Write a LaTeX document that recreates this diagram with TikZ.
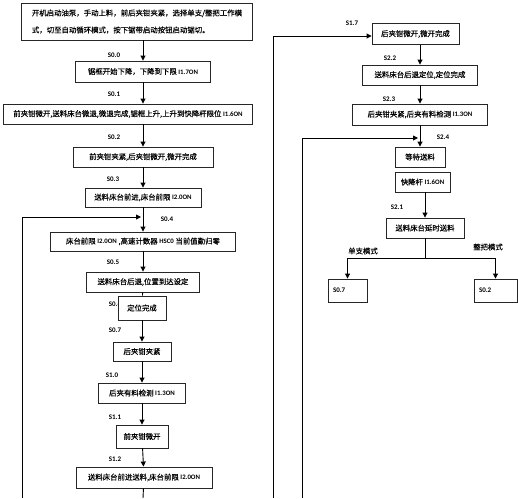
\documentclass[tikz,border=0pt]{standalone}
\usepackage{fontspec}
\setmainfont{Carlito}
\newfontfamily\cjk[FakeBold=0.3]{Noto Sans CJK SC}
\usetikzlibrary{arrows.meta}
\newcommand{\lat}[1]{{\rmfamily\bfseries\fontsize{6.8}{8}\selectfont #1}}

\begin{document}
\begin{tikzpicture}[x=1pt, y=-1pt, line width=0.9pt, >={Triangle[length=5pt,width=5pt]},
  box/.style={draw=black!85, fill=white, inner sep=0pt, minimum height=20pt,
    font=\cjk\fontsize{7.4}{17}\selectfont},
  endbox/.style={box, inner xsep=5pt, text width=29pt, align=left,
    font=\bfseries\fontsize{7}{8}\selectfont},
  lbl/.style={inner sep=0pt, font=\bfseries\fontsize{7}{8}\selectfont},
  mode/.style={inner sep=0pt, font=\cjk\fontsize{7.4}{8}\selectfont}]
  \useasboundingbox (0,0) rectangle (518,498);

  % left column
  \node[box, minimum width=231pt, minimum height=37pt, align=left] (start) at (137,21.5)
    {开机启动油泵，手动上料，前后夹钳夹紧，选择单支/整把工作模\\式，切至自动循环模式，按下锯带启动按钮启动锯切。};
  \node[box, minimum width=135pt, minimum height=21pt] (down) at (143,71.5) {锯框开始下降，下降到下限 \lat{I1.7ON}};
  \node[box, minimum width=249pt] (raise) at (128,114) {前夹钳微开,送料床台微退,微退完成,锯框上升,上升到快降杆限位 \lat{I1.6ON}};
  \node[box, minimum width=140pt] (clamp) at (143,157) {前夹钳夹紧,后夹钳微开,微开完成};
  \node[box, minimum width=116pt, minimum height=19pt] (fwd) at (143,197.5) {送料床台前进,床台前限 \lat{I2.0ON}};
  \node[box, minimum width=185pt, minimum height=19pt] (reset) at (143,241.5) {床台前限 \lat{I2.0ON} ,高速计数器 \lat{HSC0} 当前值勤归零};
  \node[box, minimum width=113pt] (back) at (143,282) {送料床台后退,位置到达设定};
  \node[lbl] (l06) at (115,304) {S0.6};
  \node[box, minimum width=48pt, minimum height=24pt] (pos) at (142,308) {定位完成};
  \node[box, minimum width=58pt, minimum height=19pt] (rclamp) at (142,351.5) {后夹钳夹紧};
  \node[box, minimum width=87pt] (check) at (142,393) {后夹有料检测 \lat{I1.3ON}};
  \node[box, minimum width=52pt, minimum height=23pt] (fopen) at (142,436.5) {前夹钳微开};
  \node[box, minimum width=136pt, minimum height=21pt] (feed) at (144,477.5) {送料床台前进送料,床台前限 \lat{I2.0ON}};

  \node[lbl] (l00) at (114,55) {S0.0};
  \node[lbl] (l01) at (114,94) {S0.1};
  \node[lbl] (l02) at (114,137) {S0.2};
  \node[lbl] (l03) at (113,179) {S0.3};
  \node[lbl] (l04) at (167,219) {S0.4};
  \node[lbl] (l05) at (113,262) {S0.5};
  \node[lbl] (l07) at (115,330) {S0.7};
  \node[lbl] (l10) at (112,375) {S1.0};
  \node[lbl] (l11) at (115,417) {S1.1};
  \node[lbl] (l12) at (115,459) {S1.2};

  \draw[->] (start.south -| down) -- (down);
  \draw[->] (down) -- (down |- raise.north);
  \draw[->] (raise.south -| clamp) -- (clamp);
  \draw[->] (clamp) -- (fwd);
  \draw[->] (fwd) -- (reset);
  \draw[->] (reset) -- (back);
  \draw (back) -- (pos);
  \draw[->] (pos) -- (rclamp);
  \draw[->] (rclamp) -- (check);
  \draw[->] (check) -- (fopen);
  \draw[->] (fopen) -- (feed);
  \coordinate (outA) at (143,498);
  \draw (feed) -- (outA);

  \coordinate (loopA) at (22,498);
  \coordinate (loopB) at (22,217);
  \coordinate (loopC) at (141,217);
  \draw[->] (loopA) -- (loopB) -- (loopC);

  % right column
  \node[box, minimum width=87pt, minimum height=21pt] (open2) at (415.5,34) {后夹钳微开,微开完成};
  \node[box, minimum width=115pt] (retract) at (420,75) {送料床台后退定位,定位完成};
  \node[box, minimum width=135pt, minimum height=21pt] (rclamp2) at (420,114.5) {后夹钳夹紧,后夹有料检测 \lat{I1.3ON}};
  \node[box, minimum width=50pt] (wait) at (420,157) {等待送料};
  \node[box, minimum width=55pt] (fast) at (422.5,182) {快降杆 \lat{I1.6ON}};
  \node[box, minimum width=78pt] (delay) at (425,228) {送料床台延时送料};
  \node[endbox, minimum height=23pt] (single) at (347.5,290.5) {S0.7};
  \node[endbox, minimum height=23pt, text width=33pt] (whole) at (495.5,290.5) {S0.2};

  \node[lbl] (l17) at (352,23) {S1.7};
  \node[lbl] (l22) at (390,58) {S2.2};
  \node[lbl] (l23) at (389,99) {S2.3};
  \node[lbl] (l24) at (443,137) {S2.4};
  \node[lbl] (l21) at (397,207) {S2.1};
  \node[mode] (msingle) at (363,251) {单支模式};
  \node[mode] (mwhole) at (488,247) {整把模式};

  \coordinate (rA) at (273,498);
  \coordinate (rB) at (273,36);
  \draw[->] (rA) -- (rB) -- (rB -| open2.west);
  \draw[->] (open2.south -| retract) -- (retract);
  \draw[->] (retract) -- (rclamp2);
  \draw[->] (rclamp2) -- (wait);
  \coordinate (sA) at (302,498);
  \coordinate (sB) at (302,138);
  \coordinate (sC) at (418,138);
  \draw[->] (sA) -- (sB) -- (sC);
  \draw[->] (fast.south -| delay) -- (delay);
  \coordinate (split) at (425,258);
  \draw (delay) -- (split);
  \draw[->] (split) -| (single);
  \draw[->] (split) -| (whole);
\end{tikzpicture}
\end{document}
